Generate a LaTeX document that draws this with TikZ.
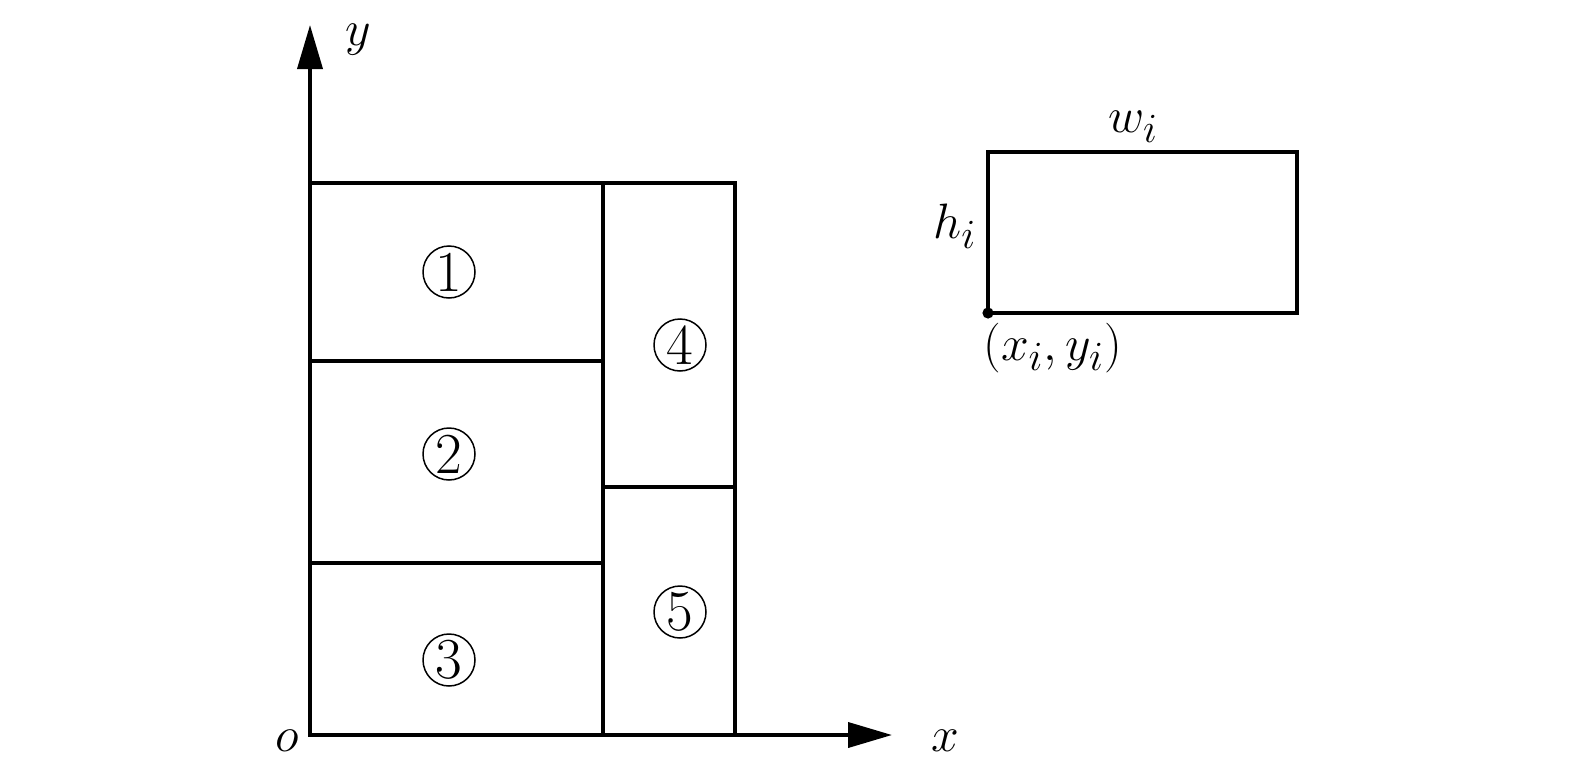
\documentclass[tikz,border=0pt]{standalone}
\usetikzlibrary{arrows.meta}
\begin{document}
\begin{tikzpicture}[x=0.5pt,y=-0.5pt,
  edge/.style={line width=1.9pt,line join=miter,line cap=rect},
  axis/.style={line width=1.9pt,-{Triangle[length=22pt,width=12.5pt]}},
  circnum/.style={circle,draw,line width=0.75pt,minimum size=26pt,inner sep=0pt,font=\fontsize{29}{29}\selectfont},
  lab/.style={inner sep=0pt,font=\fontsize{31}{31}\selectfont},
  slab/.style={inner sep=0pt,font=\fontsize{29}{29}\selectfont}]
\useasboundingbox (0,0) rectangle (1575,771);
% axes
\coordinate (o) at (310,735);
\coordinate (ytip) at (310,25);
\coordinate (xtip) at (892,735);
\draw[axis] (o) -- (ytip);
\draw[axis] (o) -- (xtip);
% big packing
\coordinate (tl) at (310,183);
\coordinate (tm) at (603,183);
\coordinate (tr) at (735,183);
\coordinate (br) at (735,735);
\coordinate (bm) at (603,735);
\coordinate (l1) at (310,361);
\coordinate (m1) at (603,361);
\coordinate (l2) at (310,563);
\coordinate (m2) at (603,563);
\coordinate (m3) at (603,487);
\coordinate (r3) at (735,487);
\draw[edge] (o) -- (tl) -- (tr) -- (br) -- cycle;
\draw[edge] (tm) -- (bm);
\draw[edge] (l1) -- (m1);
\draw[edge] (l2) -- (m2);
\draw[edge] (m3) -- (r3);
% numbers
\node[circnum] (n1) at (449,272) {1};
\node[circnum] (n2) at (449,454) {2};
\node[circnum] (n3) at (449,660) {3};
\node[circnum] (n4) at (680,345) {4};
\node[circnum] (n5) at (680,612) {5};
% axis labels
\node[lab,anchor=base west] (ylab) at (345,46) {$y$};
\node[lab,anchor=base west] (xlab) at (931,751) {$x$};
\node[lab,anchor=base west] (olab) at (275,751) {$o$};
% item rectangle
\coordinate (a) at (988,313);
\coordinate (b) at (1297,313);
\coordinate (c) at (1297,152);
\coordinate (d) at (988,152);
\draw[edge] (a) -- (b) -- (c) -- (d) -- cycle;
\fill (a) circle[radius=2.8pt];
\node[slab,anchor=base west] (wlab) at (1108,132) {$w_i$};
\node[slab,anchor=base west] (hlab) at (933,238) {$h_i$};
\node[lab,anchor=base west] (plab) at (983,360) {$(x_i, y_i)$};
\end{tikzpicture}
\end{document}
